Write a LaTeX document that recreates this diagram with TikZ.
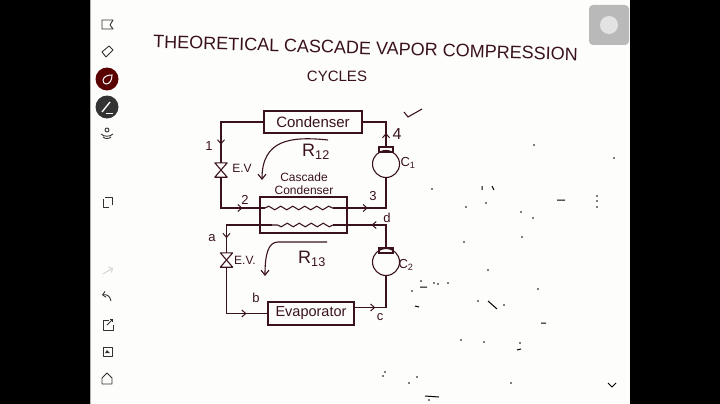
\documentclass[tikz,border=0pt]{standalone}
\usepackage{fontspec}
\usepackage{xcolor}
\usetikzlibrary{arrows.meta,decorations.markings,decorations.pathmorphing}
\setmainfont{Liberation Sans}
\definecolor{ink}{RGB}{58,18,30}
\definecolor{paper}{RGB}{253,253,251}
\definecolor{icon}{RGB}{50,50,50}
\tikzset{
  pipe/.style={draw=ink,line width=1.1pt},
  hxbox/.style={pipe,rectangle,inner sep=0pt,text=ink},
  capbox/.style={pipe,rectangle,minimum width=14pt,minimum height=5pt,inner sep=0pt},
  comp/.style={pipe,circle,minimum size=27pt,inner sep=0pt},
  valve/.style={minimum width=12pt,minimum height=14pt,inner sep=0pt},
  tag/.style={text=ink,inner sep=0pt,font=\fontsize{13}{15}\selectfont},
  flowat/.style={postaction={decorate,decoration={markings,mark=at position #1 with {\arrow[ink,line width=1pt]{Straight Barb[length=4pt,width=7pt]}}}}},
  coil/.style={pipe,decorate,decoration={snake,amplitude=1.8pt,segment length=12pt}},
  ui/.style={draw=icon,line width=0.9pt,line join=round}
}
\begin{document}
\begin{tikzpicture}[x=1pt,y=-1pt]
  \useasboundingbox (0,0) rectangle (720,404);
  \fill[black] (0,0) rectangle (720,404);
  \fill[paper] (90,0) rectangle (630,404);
  \fill[gray!60] (90,0) rectangle (91,404);
  % title
  \node[text=ink,rotate=-1.7,inner sep=0pt,font=\fontsize{18}{21}\selectfont] (title) at (365.5,48) {THEORETICAL CASCADE VAPOR COMPRESSION};
  \node[tag,font=\fontsize{15}{17}\selectfont] (subtitle) at (337,76) {CYCLES};
  % upper cycle
  \node[hxbox,minimum width=98pt,minimum height=22pt,font=\fontsize{15}{17}\selectfont] (condenser) at (313,122) {Condenser};
  \node[hxbox,minimum width=87pt,minimum height=36pt] (cascade) at (303.5,215) {};
  \node[valve] (valveA) at (221,170) {};
  \node[comp] (compA) at (386,164) {};
  \node[capbox] (capA) at (386,149.5) {};
  \coordinate (tubeAin) at (265,208);
  \coordinate (tubeAout) at (333,208);
  \draw[pipe,flowat=0.28] (capA.north) |- (condenser.east);
  \draw[pipe,flowat=0.78] (condenser.west) -| (valveA.north);
  \draw[pipe,flowat=0.7] (valveA.south) |- (tubeAin);
  \draw[coil] (tubeAin) -- (tubeAout);
  \draw[pipe,flowat=0.42] (tubeAout) -- (386,208) -- (compA.south);
  % lower cycle
  \node[hxbox,minimum width=86pt,minimum height=23pt,font=\fontsize{14.5}{17}\selectfont] (evaporator) at (311,313.5) {Evaporator};
  \node[valve] (valveB) at (226.5,260) {};
  \node[comp] (compB) at (386,262) {};
  \node[capbox] (capB) at (386,250.5) {};
  \coordinate (tubeBin) at (333,225);
  \coordinate (tubeBout) at (272,225);
  \draw[pipe,flowat=0.49] (capB.north) -- (386,225) -- (tubeBin);
  \draw[coil] (tubeBin) -- (tubeBout);
  \draw[pipe,flowat=0.8] (tubeBout) -| (valveB.north);
  \draw[pipe,flowat=0.76] (valveB.south) |- (evaporator.west);
  \draw[pipe,flowat=0.33] ([yshift=6pt]evaporator.east) -| (compB.south);
  % valves
  \foreach \v in {valveA,valveB}
    \draw[pipe,line join=round] (\v.north west) -- (\v.north east) -- (\v.south west) -- (\v.south east) -- cycle;
  % cycle arrows
  \draw[pipe,-{Straight Barb[length=5pt,width=8pt]}] (328,140) .. controls (290,136) and (262,140) .. (262,180);
  \draw[pipe,-{Straight Barb[length=5pt,width=8pt]}] (327,242) -- (278,242) .. controls (268,242) and (265,255) .. (265,276);
  % labels
  \node[tag] (one) at (209,146) {1};
  \node[tag,font=\fontsize{16}{18}\selectfont] (four) at (397,134) {4};
  \node[tag] (two) at (245,200) {2};
  \node[tag] (three) at (373,196) {3};
  \node[tag] (pta) at (212,238) {a};
  \node[tag] (ptb) at (256,298) {b};
  \node[tag] (ptc) at (380,317) {c};
  \node[tag] (ptd) at (387,218) {d};
  \node[tag,font=\fontsize{12}{14}\selectfont] (evA) at (242,168) {E.V};
  \node[tag,font=\fontsize{12}{14}\selectfont] (evB) at (245,260) {E.V.};
  \node[tag,font=\fontsize{18}{20}\selectfont] (rA) at (316,152) {R\textsubscript{12}};
  \node[tag,font=\fontsize{18}{20}\selectfont] (rB) at (312,259) {R\textsubscript{13}};
  \node[tag] (cA) at (408,163) {C\textsubscript{1}};
  \node[tag] (cB) at (406,265) {C\textsubscript{2}};
  \node[tag,align=center,font=\fontsize{12}{13}\selectfont] (cascadelbl) at (304,184) {Cascade\\Condenser};
  % tick
  \draw[pipe] (404,112) -- (408,117) -- (422,109);
  % specks
  \foreach \x/\y in {534/145,614/158,432/189,486/203,466/207,597/196,597/201,597/207,521/212,533/218,522/237,464/242,488/270,421/281,434/283,438/284,448/283,412/291,538/289,478/301,504/305,461/340,484/342,520/343,385/372,383/376,417/377,409/383,511/383,429/400}
    \fill[black] (\x,\y) circle (0.8);
  \draw[black,line width=1pt] (482,186) -- (482,190) (492,186) -- (494,190) (557,200) -- (565,200) (420,287) -- (427,287) (488,301) -- (497,309) (415,306) -- (419,307) (541,323) -- (546,323) (517,350) -- (521,349) (425,396) -- (439,397);
  % record button
  \fill[gray!55,rounded corners=4pt] (589,5) rectangle (629,45);
  \fill[gray!22] (609,25) circle (9);
  % side bar
  \draw[ui] (102,20) -- (113,20) -- (110,25) -- (113,29) -- (102,29) -- cycle;
  \draw[ui] (102,52) -- (109,46) -- (113,50) -- (106,57) -- cycle;
  \fill[red!35!black] (107,79) circle (11.5);
  \draw[white,line width=1pt] (103,80) .. controls (104,76) and (108,75) .. (112,75) .. controls (112,80) and (110,84) .. (106,84) .. controls (104,84) and (103,82) .. (103,80);
  \fill[black!80] (107,107) circle (11.5);
  \draw[white,line width=1.4pt] (102,112) -- (110,102);
  \draw[white,line width=0.7pt] (106,113) -- (113,113);
  \draw[ui] (107,130) circle (2) (101,134) .. controls (104,137) and (110,137) .. (113,134) (103,137) .. controls (105,139) and (109,139) .. (111,137);
  \draw[ui] (105,197) -- (112,197) -- (112,205) (109,207) -- (103,207) -- (103,199);
  \draw[gray!35,line width=0.9pt,-{Straight Barb[length=3pt,width=6pt]}] (103,274) -- (113,268);
  \draw[ui,-{Straight Barb[length=3pt,width=6pt]}] (111,301) .. controls (110,296) and (107,294) .. (102,295);
  \draw[ui] (109,320) -- (103,320) -- (103,330) -- (113,330) -- (113,325);
  \draw[ui,-{Straight Barb[length=2pt,width=4pt]}] (107,325) -- (113,319);
  \draw[ui] (103,347) rectangle (112,356);
  \fill[icon] (105,353) -- (107,350) -- (110,353) -- cycle;
  \draw[ui] (102,378) -- (107,373) -- (112,378) -- (112,384) -- (102,384) -- cycle;
  \draw[black,line width=1pt] (608,383) -- (612,387) -- (616,383);
\end{tikzpicture}
\end{document}
